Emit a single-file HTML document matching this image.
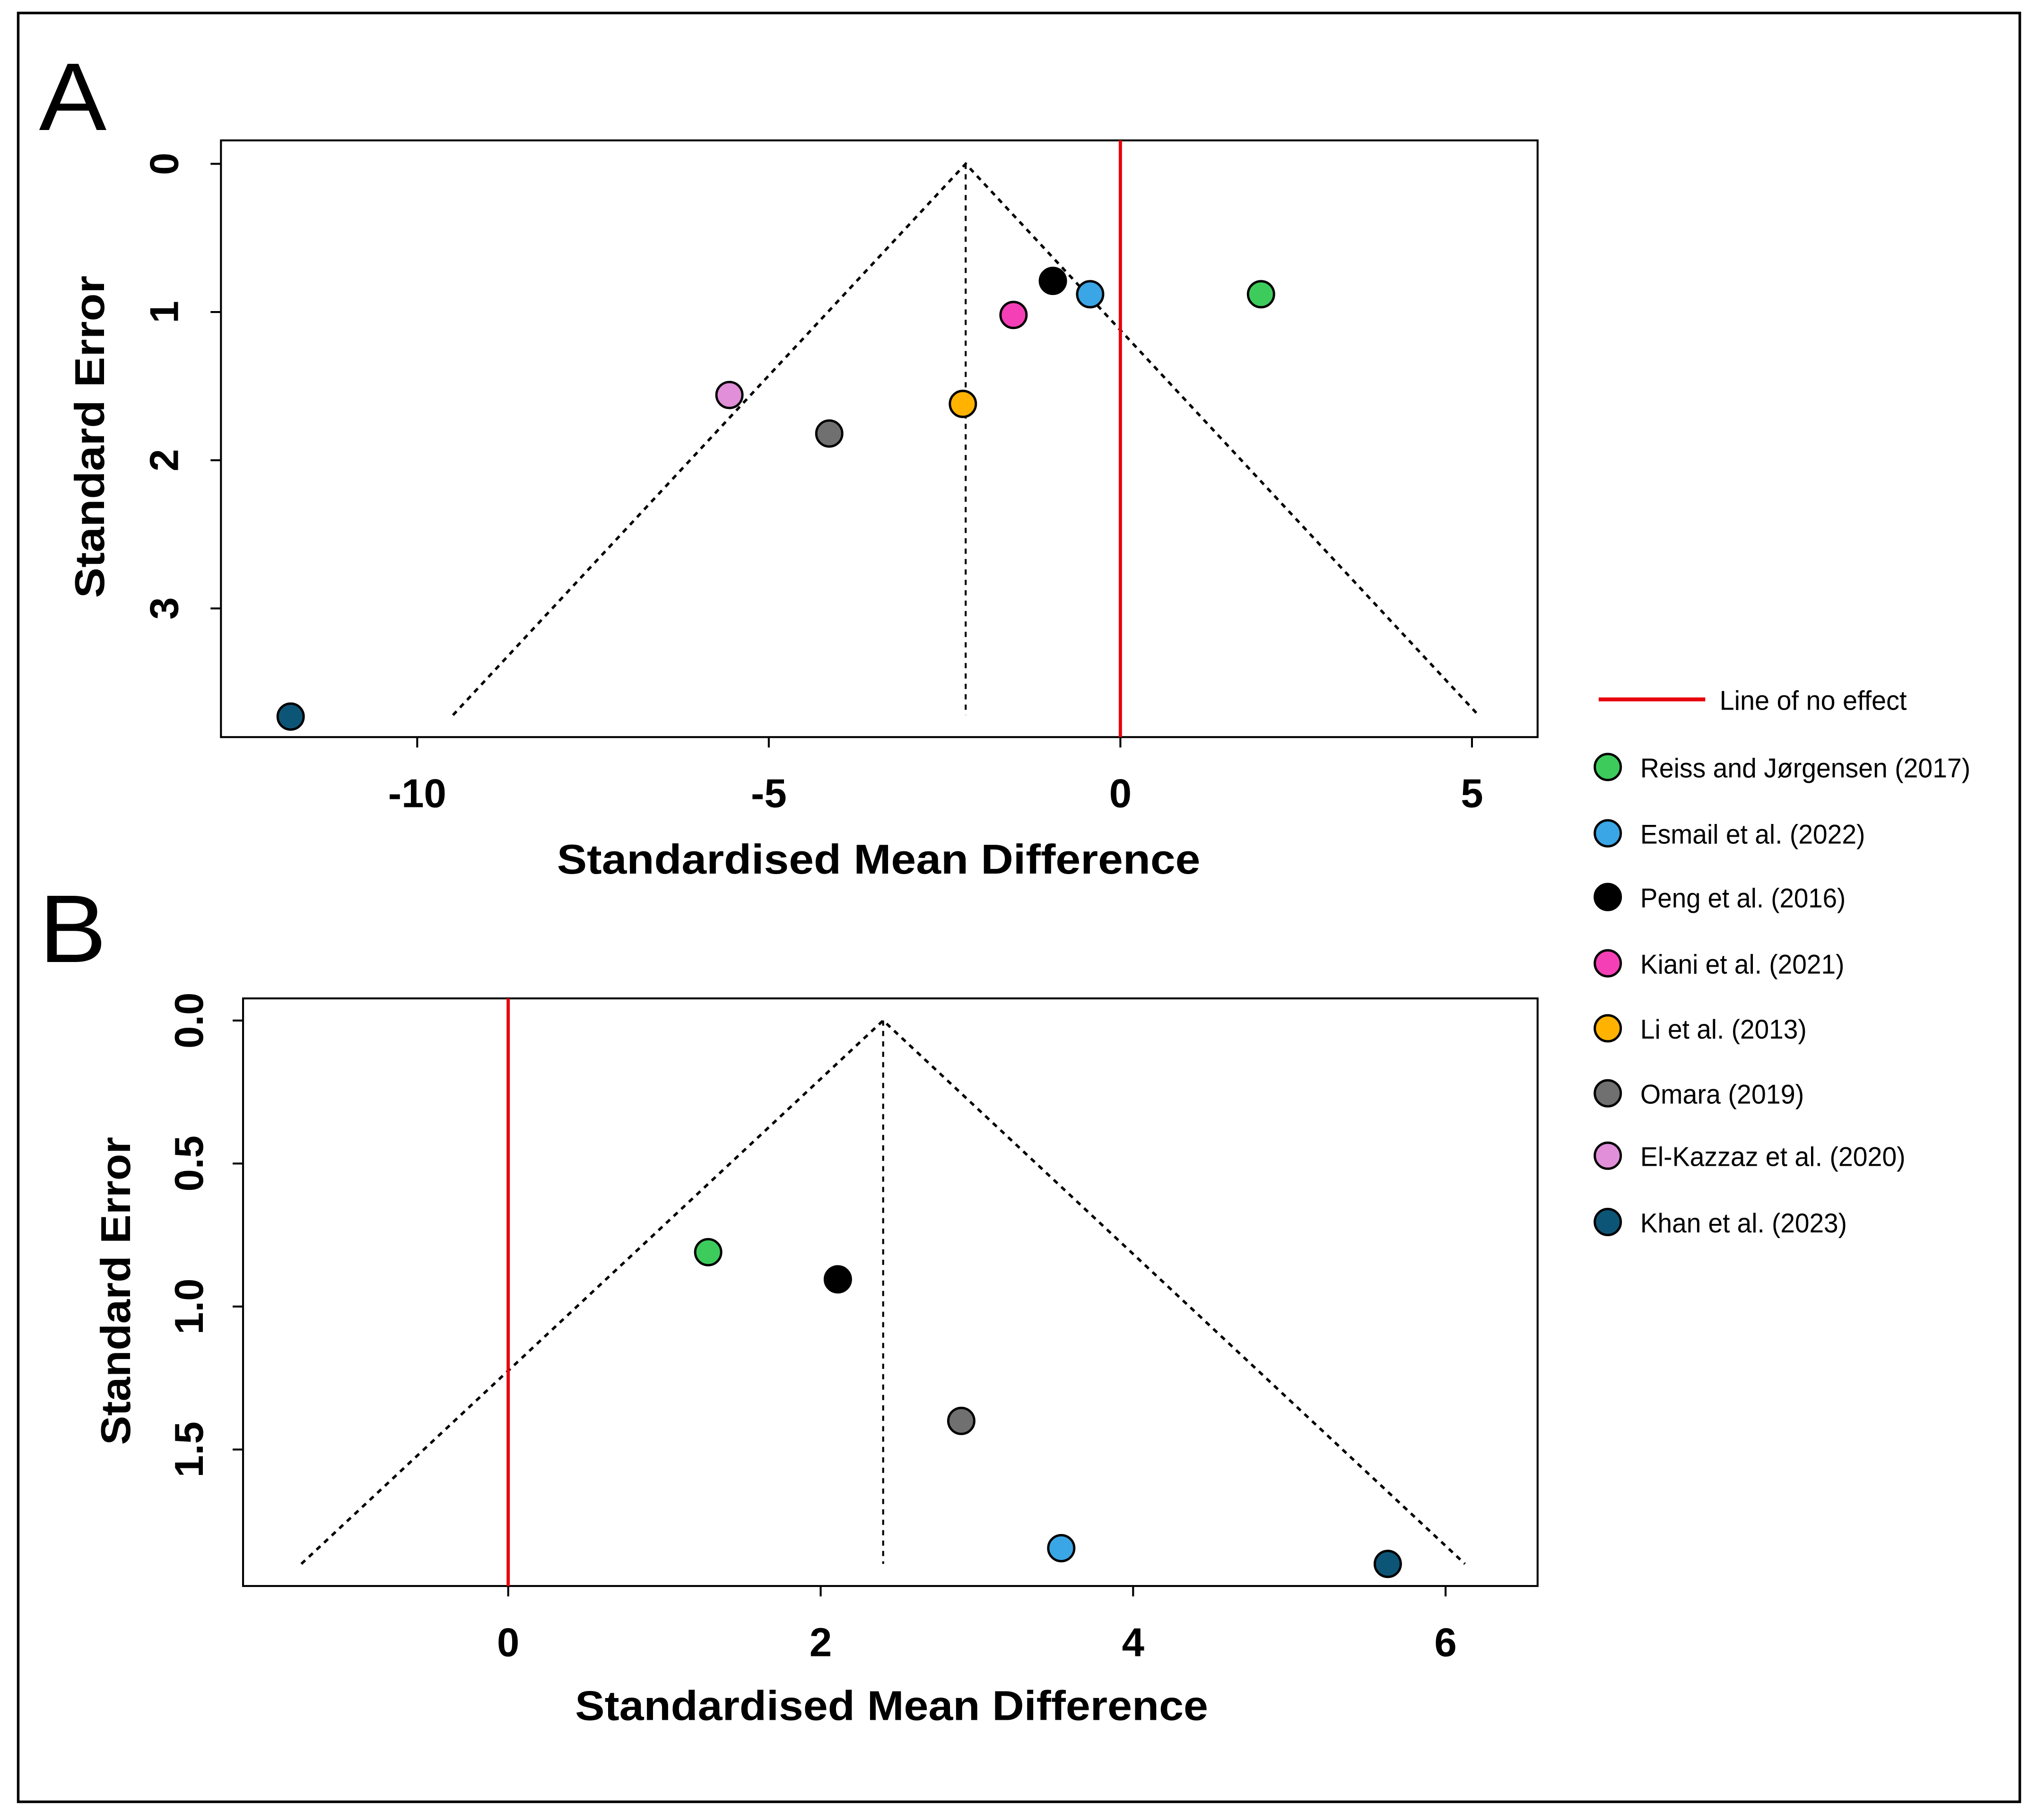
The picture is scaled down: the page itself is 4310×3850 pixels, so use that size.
<!DOCTYPE html>
<html><head><meta charset="utf-8"><style>html,body{margin:0;padding:0;background:#fff}svg{display:block}text{font-family:"Liberation Sans",Arial,sans-serif}</style></head>
<body>
<svg id="chart" width="4310" height="3850" viewBox="0 0 1568 1400" preserveAspectRatio="none" xmlns="http://www.w3.org/2000/svg">
<rect x="14" y="10" width="1540" height="1376" fill="#fff" stroke="#000" stroke-width="2"/>
<g id="gA"></g>
<g id="gB"></g>
<g id="legend"></g>
</svg>
<script>
const studyNames = ["Reiss and Jørgensen (2017)","Esmail et al. (2022)","Peng et al. (2016)","Kiani et al. (2021)","Li et al. (2013)","Omara (2019)","El-Kazzaz et al. (2020)","Khan et al. (2023)"];
const studyColors = ["#3dcc5c","#3aa6e6","#000000","#f53fb6","#ffb300","#707070","#e08fd8","#0d5577"];
// Panel A
const aStudies = [0,1,2,3,4,5,6,7];
const aSMD = [2.0,-0.43,-0.96,-1.52,-2.24,-4.14,-5.56,-11.8];
const aSE = [0.88,0.88,0.79,1.02,1.62,1.82,1.56,3.73];
const aPooled = -2.2;
const aMaxSE = 3.72;
const aXTicks = [-10,-5,0,5];
const aYTicks = [0,1,2,3];
const aYTickLabels = ["0","1","2","3"];
// Panel B
const bStudies = [0,2,5,1,7];
const bSMD = [1.28,2.11,2.9,3.54,5.63];
const bSE = [0.81,0.905,1.40,1.845,1.9];
const bPooled = 2.4;
const bMaxSE = 1.9;
const bXTicks = [0,2,4,6];
const bYTicks = [0,0.5,1.0,1.5];
const bYTickLabels = ["0.0","0.5","1.0","1.5"];

const NS="http://www.w3.org/2000/svg";
function mk(parent,tag,attrs,txt){const e=document.createElementNS(NS,tag);for(const k in attrs)e.setAttribute(k,attrs[k]);if(txt!==undefined)e.textContent=txt;parent.appendChild(e);return e;}

function panel(g,cfg){
  const xs=v=>cfg.x0px+(v-cfg.x0v)*cfg.xpu;
  const ys=v=>cfg.y0px+v*cfg.ypu;
  let e=mk(g,'text',{x:cfg.lx,y:cfg.ly,'font-size':74,'font-weight':'300',textLength:52,lengthAdjust:'spacingAndGlyphs'},cfg.letter);
  
  
  e=mk(g,'rect',{x:cfg.bx,y:cfg.by,width:cfg.bw,height:cfg.bh,fill:'none',stroke:'#000','stroke-width':1.5});
  
  
  const ap=xs(cfg.pooled),ay=ys(0),by=ys(cfg.maxSE);
  e=mk(g,'polyline',{points:`${xs(cfg.pooled-1.96*cfg.maxSE)},${by} ${ap},${ay} ${xs(cfg.pooled+1.96*cfg.maxSE)},${by}`,fill:'none',stroke:'#000','stroke-width':2,'stroke-dasharray':'4,4'});
  
  
  e=mk(g,'line',{x1:ap,y1:ay,x2:ap,y2:by,stroke:'#000','stroke-width':1.5,'stroke-dasharray':'4,4'});
  
  
  e=mk(g,'line',{x1:xs(0),y1:cfg.by,x2:xs(0),y2:cfg.by+cfg.bh,stroke:'#e8000b','stroke-width':2.5});
  
  
  cfg.xt.forEach(v=>{
    e=mk(g,'line',{x1:xs(v),y1:cfg.by+cfg.bh,x2:xs(v),y2:cfg.by+cfg.bh+8,stroke:'#000','stroke-width':1.5});
    
    
    e=mk(g,'text',{x:xs(v),y:cfg.by+cfg.bh+54,'font-size':31,'font-weight':'bold','text-anchor':'middle'},String(v));
    
    
  });
  cfg.yt.forEach((v,i)=>{
    e=mk(g,'line',{x1:cfg.bx-8,y1:ys(v),x2:cfg.bx,y2:ys(v),stroke:'#000','stroke-width':1.5});
    
    
    e=mk(g,'text',{x:cfg.ytx,y:ys(v),'font-size':31,'font-weight':'bold','text-anchor':'middle',transform:`rotate(-90 ${cfg.ytx} ${ys(v)})`},cfg.ytl[i]);
    
    
  });
  e=mk(g,'text',{x:cfg.xtx,y:cfg.xty,'font-size':32,'font-weight':'bold','text-anchor':'middle',textLength:cfg.xtl,lengthAdjust:'spacingAndGlyphs'},'Standardised Mean Difference');
  
  
  e=mk(g,'text',{x:cfg.ytitx,y:cfg.ytity,'font-size':32,'font-weight':'bold','text-anchor':'middle',textLength:cfg.ytitl,lengthAdjust:'spacingAndGlyphs',transform:`rotate(-90 ${cfg.ytitx} ${cfg.ytity})`},'Standard Error');
  
  
  cfg.smd.forEach((v,i)=>{
    e=mk(g,'circle',{cx:xs(v),cy:ys(cfg.se[i]),r:10,fill:studyColors[cfg.st[i]],stroke:'#000','stroke-width':1.8});
    
    
  });
}
panel(document.getElementById('gA'),{letter:'A',lx:30,ly:100,bx:170,by:108,bw:1013,bh:459,x0px:862,x0v:0,xpu:54.1,y0px:126,ypu:114,
  pooled:aPooled,maxSE:aMaxSE,xt:aXTicks,yt:aYTicks,ytl:aYTickLabels,ytx:137,xtx:676,xty:672,xtl:495,ytitx:80,ytity:336,ytitl:248,smd:aSMD,se:aSE,st:aStudies});
panel(document.getElementById('gB'),{letter:'B',lx:30,ly:740,bx:187,by:768,bw:996,bh:452,x0px:391,x0v:0,xpu:120.2,y0px:785,ypu:220,
  pooled:bPooled,maxSE:bMaxSE,xt:bXTicks,yt:bYTicks,ytl:bYTickLabels,ytx:156,xtx:686,xty:1323,xtl:487,ytitx:100,ytity:993,ytitl:237,smd:bSMD,se:bSE,st:bStudies});

const lg=document.getElementById('legend');
let le=mk(lg,'line',{x1:1230,y1:538,x2:1312,y2:538,stroke:'#e8000b','stroke-width':3});


le=mk(lg,'text',{x:1323,y:546,'font-size':21,textLength:144,lengthAdjust:'spacingAndGlyphs'},'Line of no effect');


const legY=[590,641,690,741,791,841,889,940];
const legW=[254,173,158,157,128,126,204,159];
studyNames.forEach((n,i)=>{
  let c=mk(lg,'circle',{cx:1237,cy:legY[i],r:10,fill:studyColors[i],stroke:'#000','stroke-width':1.8});
  
  
  let t=mk(lg,'text',{x:1262,y:legY[i]+8,'font-size':21,textLength:legW[i],lengthAdjust:'spacingAndGlyphs'},n);
  
  
});
</script>
</body></html>
